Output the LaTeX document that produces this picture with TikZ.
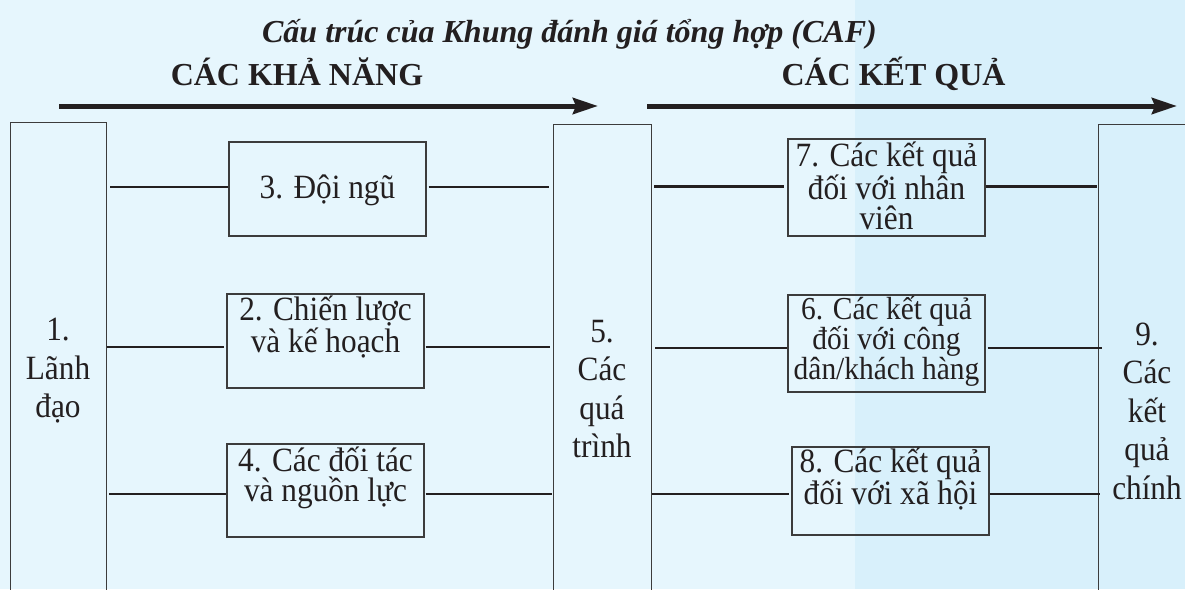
\documentclass[tikz,border=0pt]{standalone}
\usepackage{fontspec}
\usepackage{graphicx}
\setmainfont{Liberation Serif}
\newfontfamily\boxfont{Liberation Serif}[FakeStretch=0.92]
\usetikzlibrary{arrows.meta}
\definecolor{bgL}{RGB}{230,246,253}
\definecolor{bgR}{RGB}{216,240,251}
\definecolor{ink}{RGB}{35,31,32}
\definecolor{frame}{RGB}{60,60,60}
\tikzset{
  box/.style={draw=frame, line width=1.3pt, rectangle, inner sep=0pt, fill=none},
  txt/.style={text=ink, align=center, inner sep=0pt, font=\boxfont\fontsize{34}{29.5}\selectfont},
  tall/.style={text=ink, align=center, inner sep=0pt, font=\boxfont\fontsize{34}{38.5}\selectfont},
  conn/.style={draw=ink, line width=2.7pt},
  flow/.style={draw=ink, line width=5pt, -{Stealth[length=25pt,width=16pt,inset=3pt]}},
  head/.style={text=ink, anchor=base, inner sep=0pt, font=\fontsize{32}{32}\selectfont\bfseries},
}
\begin{document}
\begin{tikzpicture}[x=1pt,y=-1pt]
\clip (0,0) rectangle (1185,589);
\fill[bgL] (0,0) rectangle (855,589);
\fill[bgR] (855,0) rectangle (1185,589);

% titles
\node[head, font=\fontsize{32}{32}\selectfont\bfseries\itshape] (title) at (569.5,42) {Cấu trúc của Khung đánh giá tổng hợp (CAF)};
\node[head] (h1) at (297,85) {CÁC KHẢ NĂNG};
\node[head] (h2) at (893.5,85) {CÁC KẾT QUẢ};

% flow arrows
\coordinate (a1s) at (59,106);
\coordinate (a1e) at (598,106);
\coordinate (a2s) at (647,106);
\coordinate (a2e) at (1177,106);
\draw[flow] (a1s) -- (a1e);
\draw[flow] (a2s) -- (a2e);

% tall boxes
\node[box, minimum width=96.4pt, minimum height=520pt, anchor=north west] (b1) at (9.6,122) {};
\node[box, minimum width=98pt, minimum height=520pt, anchor=north west] (b5) at (553,124) {};
\node[box, minimum width=120pt, minimum height=520pt, anchor=north west] (b9) at (1098,124) {};
\node[tall] (t1) at (58,371) {1.\\Lãnh\\đạo};
\node[tall] (t5) at (602,389) {5.\\Các\\quá\\trình};
\node[tall] (t9) at (1147,411) {9.\\Các\\kết\\quả\\chính};

% small boxes
\node[box, minimum width=197pt, minimum height=94pt] (b3) at (327.5,189) {};
\node[box, minimum width=197pt, minimum height=94pt] (b2) at (325.5,341) {};
\node[box, minimum width=197pt, minimum height=93pt] (b4) at (325.5,490.5) {};
\node[box, minimum width=197pt, minimum height=97pt] (b7) at (886.5,187.5) {};
\node[box, minimum width=197pt, minimum height=97pt] (b6) at (886.5,343.5) {};
\node[box, minimum width=197pt, minimum height=88pt] (b8) at (890.5,491) {};

\node[txt] (t3) at (327.5,190) {3. Đội ngũ};
\node[txt] (t2) at (325.5,327) {2. Chiến lược\\và kế hoạch};
\node[txt] (t4) at (325.5,478) {4. Các đối tác\\và nguồn lực};
\node[txt] (t7) at (886.5,186) {7. Các kết quả\\đối với nhân\\viên};
\node[txt, font=\boxfont\fontsize{32}{30}\selectfont] (t6) at (886.5,341) {6. Các kết quả\\đối với công\\dân/khách hàng};
\node[txt] (t8) at (890.5,479) {8. Các kết quả\\đối với xã hội};

% connector rows
\coordinate (r1) at (0,187);
\coordinate (r2) at (0,347);
\coordinate (r3) at (0,494);
\coordinate (s1) at (0,186.5);
\coordinate (s2) at (0,348);
\coordinate (s3) at (0,494);

\draw[conn, shorten <=3pt] (b1.east |- r1) -- (b3.west |- r1);
\draw[conn, shorten >=4pt, shorten <=2pt] (b3.east |- r1) -- (b5.west |- r1);
\draw[conn] (b1.east |- r2) -- ([xshift=-2pt]b2.west |- r2);
\draw[conn, shorten >=3pt, shorten <=1pt] (b2.east |- r2) -- (b5.west |- r2);
\draw[conn, shorten <=2pt] (b1.east |- r3) -- (b4.west |- r3);
\draw[conn, shorten >=1pt, shorten <=1pt] (b4.east |- r3) -- (b5.west |- r3);

\draw[conn, shorten <=2pt, shorten >=3pt] (b5.east |- s1) -- (b7.west |- s1);
\draw[conn, shorten >=1pt] (b7.east |- s1) -- (b9.west |- s1);
\draw[conn, shorten <=3pt] (b5.east |- s2) -- (b6.west |- s2);
\draw[conn, shorten <=2pt] (b6.east |- s2) -- ([xshift=4pt]b9.west |- s2);
\draw[conn] (b5.east |- s3) -- ([xshift=-2pt]b8.west |- s3);
\draw[conn] (b8.east |- s3) -- ([xshift=2pt]b9.west |- s3);
\end{tikzpicture}
\end{document}
